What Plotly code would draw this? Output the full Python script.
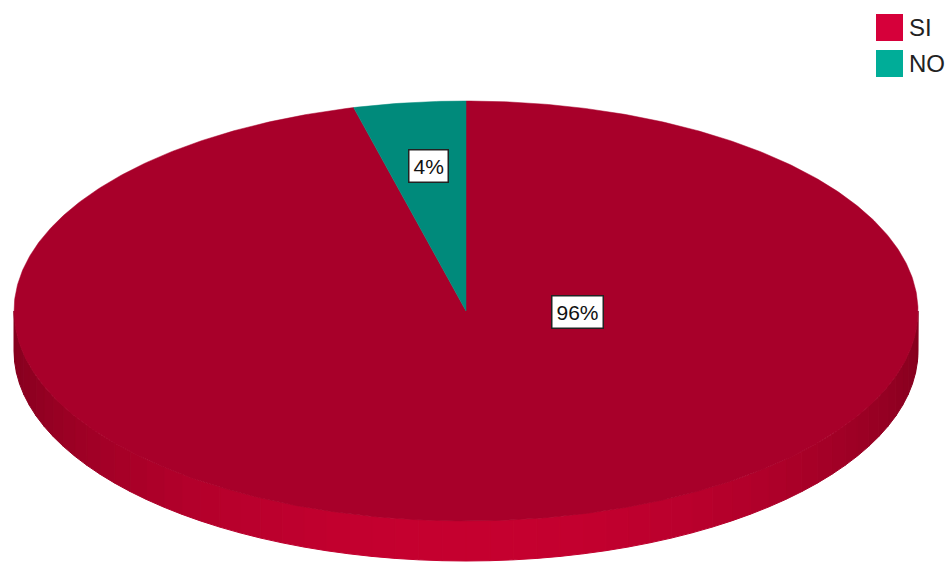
import numpy as np
import plotly.graph_objects as go

# ---- data ----
categories = ["SI", "NO"]
values = [96, 4]
labels_text = ["96%", "4%"]

# ---- styling ----
top_colors = {"SI": "#a8002a", "NO": "#008a7b"}
legend_colors = {"SI": "#d6003a", "NO": "#00ad98"}
side_dark = np.array([0x86, 0x00, 0x1f])
side_bright = np.array([0xc6, 0x00, 0x30])
side_dark_no = np.array([0x00, 0x60, 0x55])
side_bright_no = np.array([0x00, 0x9a, 0x88])

W, H = 948, 565
cx, cy = 466, 311      # ellipse centre (pixels)
ra, rb = 452, 210      # ellipse radii
depth = 40             # thickness of the 3D pie

total = float(sum(values))
fracs = [v / total for v in values]

start = -np.pi / 2
ranges = []
a0 = start
for f in fracs:
    a1 = a0 + 2 * np.pi * f
    ranges.append((a0, a1))
    a0 = a1


def slice_at(phi):
    p = (phi - start) % (2 * np.pi)
    acc = 0.0
    for i, f in enumerate(fracs):
        acc += 2 * np.pi * f
        if p <= acc + 1e-9:
            return i
    return len(fracs) - 1


fig = go.Figure()

# ---- side wall (front half) as strips ----
nstrip = 60
edges = np.linspace(0, np.pi, nstrip + 1)
for k in range(nstrip):
    p0, p1 = edges[k], edges[k + 1]
    ph = np.linspace(p0, p1, 6)
    xt = cx + ra * np.cos(ph)
    yt = cy + rb * np.sin(ph)
    xs = np.concatenate([xt, xt[::-1], xt[:1]])
    ys = np.concatenate([yt, (yt + depth)[::-1], yt[:1]])
    mid = 0.5 * (p0 + p1)
    idx = slice_at(mid)
    t = np.sin(mid) ** 1.5
    if categories[idx] == "SI":
        c = side_dark + (side_bright - side_dark) * t
    else:
        c = side_dark_no + (side_bright_no - side_dark_no) * t
    col = "rgb(%d,%d,%d)" % tuple(int(v) for v in c)
    fig.add_trace(go.Scatter(x=xs, y=ys, mode="lines", fill="toself",
                             fillcolor=col, line=dict(color=col, width=1),
                             hoverinfo="skip", showlegend=False))

# ---- top faces ----
for cat, (a0, a1) in zip(categories, ranges):
    n = max(int(abs(a1 - a0) / (2 * np.pi) * 720), 8)
    ph = np.linspace(a0, a1, n)
    xs = np.concatenate([[cx], cx + ra * np.cos(ph), [cx]])
    ys = np.concatenate([[cy], cy + rb * np.sin(ph), [cy]])
    col = top_colors[cat]
    fig.add_trace(go.Scatter(x=xs, y=ys, mode="lines", fill="toself",
                             fillcolor=col, line=dict(color=col, width=0.5),
                             hoverinfo="skip", showlegend=False, name=cat))

# ---- percentage labels ----
label_pos = {"SI": (577, 312), "NO": (428, 166)}
for cat, txt in zip(categories, labels_text):
    x, y = label_pos[cat]
    fig.add_annotation(x=x, y=y, text=txt, showarrow=False,
                       font=dict(family="Liberation Sans, Arial", size=21, color="#111"),
                       bgcolor="white", bordercolor="#222", borderwidth=1.5,
                       borderpad=4)

# ---- legend (drawn manually: big square swatches) ----
leg_x, leg_y0, leg_step, sw = 876, 14, 36, 27
for i, cat in enumerate(categories):
    y0 = leg_y0 + i * leg_step
    fig.add_shape(type="rect", x0=leg_x, x1=leg_x + sw, y0=y0, y1=y0 + sw,
                  xref="x", yref="y", fillcolor=legend_colors[cat],
                  line=dict(width=0))
    fig.add_annotation(x=leg_x + sw + 4, y=y0 + sw / 2, text=cat,
                       showarrow=False, xanchor="left", yanchor="middle",
                       font=dict(family="Liberation Sans, Arial", size=24, color="#222"))

fig.update_layout(
    width=W, height=H,
    margin=dict(l=0, r=0, t=0, b=0),
    plot_bgcolor="white", paper_bgcolor="white",
    xaxis=dict(range=[0, W], visible=False, fixedrange=True),
    yaxis=dict(range=[H, 0], visible=False, fixedrange=True),
    showlegend=False,
)

fig.write_html("out.html",
               config={"displayModeBar": False, "staticPlot": True},
               post_script="document.body.style.margin='0';"
                           "document.body.style.overflow='hidden';")
